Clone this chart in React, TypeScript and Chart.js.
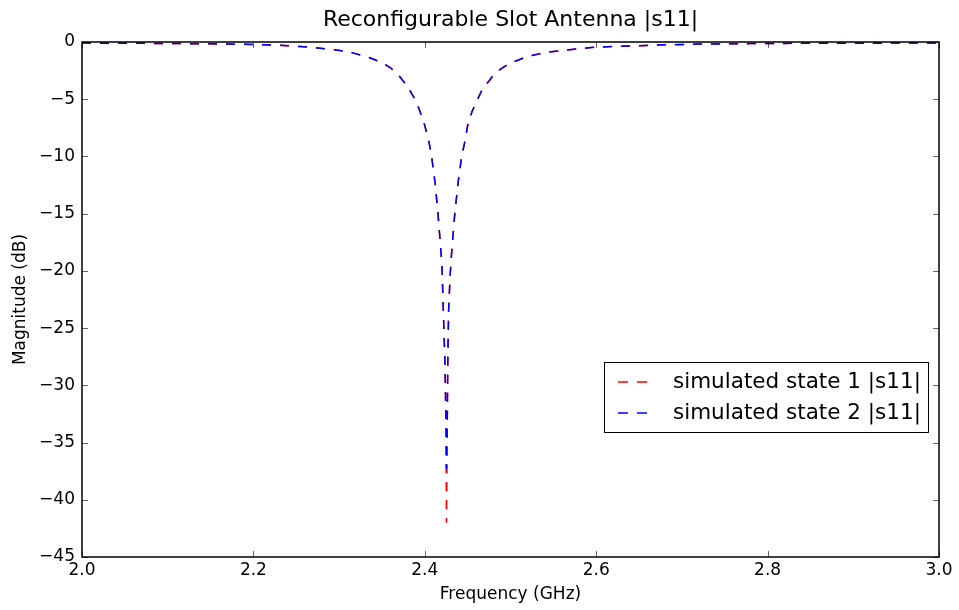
import { useEffect, useRef } from "react";
import { Chart, registerables } from "chart.js";

Chart.register(...registerables);

// ---- data ----
const frequencyGHz = [
  2.0, 2.05, 2.1, 2.15, 2.2, 2.235, 2.255, 2.275, 2.295, 2.315,
  2.335, 2.35, 2.36, 2.37, 2.38, 2.39, 2.395, 2.4, 2.405, 2.408,
  2.41, 2.412, 2.4154, 2.418, 2.42, 2.4215, 2.4235, 2.4247, 2.4253, 2.4262,
  2.4268, 2.4278, 2.4295, 2.4312, 2.435, 2.439, 2.443, 2.4465, 2.45, 2.455,
  2.461, 2.468, 2.475, 2.48, 2.488, 2.496, 2.505, 2.515, 2.525, 2.538,
  2.55, 2.566, 2.585, 2.6, 2.636, 2.68, 2.72, 2.78, 2.85, 2.92,
  3.0,
];

const state1Db = [
  -0.09, -0.11, -0.13, -0.16, -0.21, -0.3, -0.4, -0.52, -0.68, -0.93,
  -1.35, -1.8, -2.25, -2.95, -3.9, -5.2, -6.2, -7.3, -8.8, -10.0,
  -11.2, -12.3, -15.0, -17.5, -19.5, -23.2, -28.0, -33.5, -42.0, -34.0,
  -28.0, -23.4, -20.5, -18.5, -15.0, -12.2, -10.0, -8.8, -7.3, -6.1,
  -5.1, -4.0, -3.4, -2.9, -2.4, -2.0, -1.7, -1.4, -1.18, -0.96,
  -0.83, -0.7, -0.55, -0.45, -0.35, -0.25, -0.18, -0.14, -0.11, -0.1,
  -0.09,
];

const state2Db = [
  -0.09, -0.11, -0.13, -0.16, -0.21, -0.3, -0.4, -0.52, -0.68, -0.93,
  -1.35, -1.8, -2.25, -2.95, -3.9, -5.2, -6.2, -7.3, -8.8, -10.0,
  -11.2, -12.3, -15.0, -17.5, -19.5, -23.2, -28.0, -32.8, -37.3, -33.0,
  -28.0, -23.4, -20.5, -18.5, -15.0, -12.2, -10.0, -8.8, -7.3, -6.1,
  -5.1, -4.0, -3.4, -2.9, -2.4, -2.0, -1.7, -1.4, -1.18, -0.96,
  -0.83, -0.7, -0.55, -0.45, -0.35, -0.25, -0.18, -0.14, -0.11, -0.1,
  -0.09,
];

const seriesLabels = ["simulated state 1 |s11|", "simulated state 2 |s11|"];
const seriesColors = ["#ff0000", "#0000ff"];
const xTickValues = [2.0, 2.2, 2.4, 2.6, 2.8, 3.0];
const yTickValues = [0, -5, -10, -15, -20, -25, -30, -35, -40, -45];

const titleText = "Reconfigurable Slot Antenna |s11|";
const xTitle = "Frequency (GHz)";
const yTitle = "Magnitude (dB)";

const FONT = "'DejaVu Sans', 'Liberation Sans', sans-serif";

const toPoints = (ys: number[]) => frequencyGHz.map((f, i) => ({ x: f, y: ys[i] }));

// inward ticks on all four sides + black frame
const framePlugin = {
  id: "mplFrame",
  afterDatasetsDraw(chart: any) {
    const { ctx, chartArea: a, scales } = chart;
    ctx.save();
    ctx.strokeStyle = "rgba(0,0,0,0.6)";
    ctx.lineWidth = 1;
    const L = 6;
    ctx.beginPath();
    for (const t of scales.x.ticks) {
      const px = Math.round(scales.x.getPixelForValue(t.value)) + 0.5;
      ctx.moveTo(px, a.bottom);
      ctx.lineTo(px, a.bottom - L);
      ctx.moveTo(px, a.top);
      ctx.lineTo(px, a.top + L);
    }
    for (const t of scales.y.ticks) {
      const py = Math.round(scales.y.getPixelForValue(t.value)) + 0.5;
      ctx.moveTo(a.left, py);
      ctx.lineTo(a.left + L, py);
      ctx.moveTo(a.right, py);
      ctx.lineTo(a.right - L, py);
    }
    ctx.stroke();
    ctx.strokeStyle = "#000";
    ctx.lineWidth = 1.5;
    ctx.strokeRect(a.left, a.top, a.right - a.left, a.bottom - a.top);
    ctx.restore();
  },
};

// matplotlib-like legend box inside the plot area
const legendPlugin = {
  id: "mplLegend",
  afterDraw(chart: any) {
    const { ctx, chartArea: a } = chart;
    const w = 325;
    const h = 71;
    const bx = Math.round(a.right - 10 - w);
    const by = Math.round(a.top + 320);
    ctx.save();
    ctx.fillStyle = "#fff";
    ctx.fillRect(bx, by, w, h);
    ctx.strokeStyle = "#000";
    ctx.lineWidth = 1;
    ctx.strokeRect(bx + 0.5, by + 0.5, w - 1, h - 1);
    ctx.font = `21.5px ${FONT}`;
    ctx.textBaseline = "middle";
    ctx.textAlign = "left";
    chart.data.datasets.forEach((ds: any, i: number) => {
      const cy = by + 20 + i * 31;
      ctx.strokeStyle = ds.borderColor;
      ctx.lineWidth = 1.5;
      ctx.setLineDash([10, 9]);
      ctx.beginPath();
      ctx.moveTo(bx + 14, cy);
      ctx.lineTo(bx + 43, cy);
      ctx.stroke();
      ctx.setLineDash([]);
      ctx.fillStyle = "#000";
      ctx.fillText(ds.label, bx + 69, cy);
    });
    ctx.restore();
  },
};

export default function App() {
  const ref = useRef<HTMLCanvasElement | null>(null);

  useEffect(() => {
    if (!ref.current) return;
    const chart = new Chart(ref.current, {
      type: "line",
      data: {
        datasets: [
          {
            label: seriesLabels[0],
            data: toPoints(state1Db),
            borderColor: seriesColors[0],
            backgroundColor: seriesColors[0],
            borderWidth: 1.5,
            borderDash: [9, 9],
            pointRadius: 0,
            tension: 0,
            fill: false,
            order: 2,
          },
          {
            label: seriesLabels[1],
            data: toPoints(state2Db),
            borderColor: seriesColors[1],
            backgroundColor: seriesColors[1],
            borderWidth: 1.5,
            borderDash: [9, 9],
            pointRadius: 0,
            tension: 0,
            fill: false,
            order: 1,
          },
        ],
      },
      options: {
        animation: false,
        responsive: false,
        layout: { padding: { left: 0, right: 20, top: 0, bottom: 0 } },
        plugins: {
          legend: { display: false },
          tooltip: { enabled: false },
          title: {
            display: true,
            fullSize: false,
            text: titleText,
            color: "#000",
            font: { family: FONT, size: 22, weight: "normal" },
            padding: { top: 7.5, bottom: 8.1 },
          },
        },
        scales: {
          x: {
            type: "linear",
            min: 2,
            max: 3,
            afterBuildTicks: (s: any) => {
              s.ticks = xTickValues.map((v) => ({ value: v }));
            },
            afterFit: (s: any) => {
              s.height = 53;
            },
            grid: { display: false, drawTicks: false },
            border: { display: false },
            ticks: {
              color: "#000",
              font: { family: FONT, size: 17 },
              padding: 3,
              maxRotation: 0,
              autoSkip: false,
              callback: (v: any) => Number(v).toFixed(1),
            },
            title: {
              display: true,
              text: xTitle,
              color: "#000",
              font: { family: FONT, size: 17 },
              padding: { top: 0, bottom: 5 },
            },
          },
          y: {
            type: "linear",
            min: -45,
            max: 0,
            afterBuildTicks: (s: any) => {
              s.ticks = yTickValues.map((v) => ({ value: v }));
            },
            afterFit: (s: any) => {
              s.width = 82;
            },
            grid: { display: false, drawTicks: false },
            border: { display: false },
            ticks: {
              color: "#000",
              font: { family: FONT, size: 17 },
              padding: 7,
              autoSkip: false,
              callback: (v: any) => (Number(v) < 0 ? "\u2212" + Math.abs(Number(v)) : String(v)),
            },
            title: {
              display: true,
              text: yTitle,
              color: "#000",
              font: { family: FONT, size: 17 },
              padding: { top: 10, bottom: 0 },
            },
          },
        },
      },
      plugins: [framePlugin, legendPlugin],
    });
    return () => chart.destroy();
  }, []);

  return (
    <div style={{ position: "absolute", left: 0, top: 0, width: 959, height: 610, background: "#fff" }}>
      <canvas ref={ref} width={959} height={610} style={{ display: "block" }} />
    </div>
  );
}
